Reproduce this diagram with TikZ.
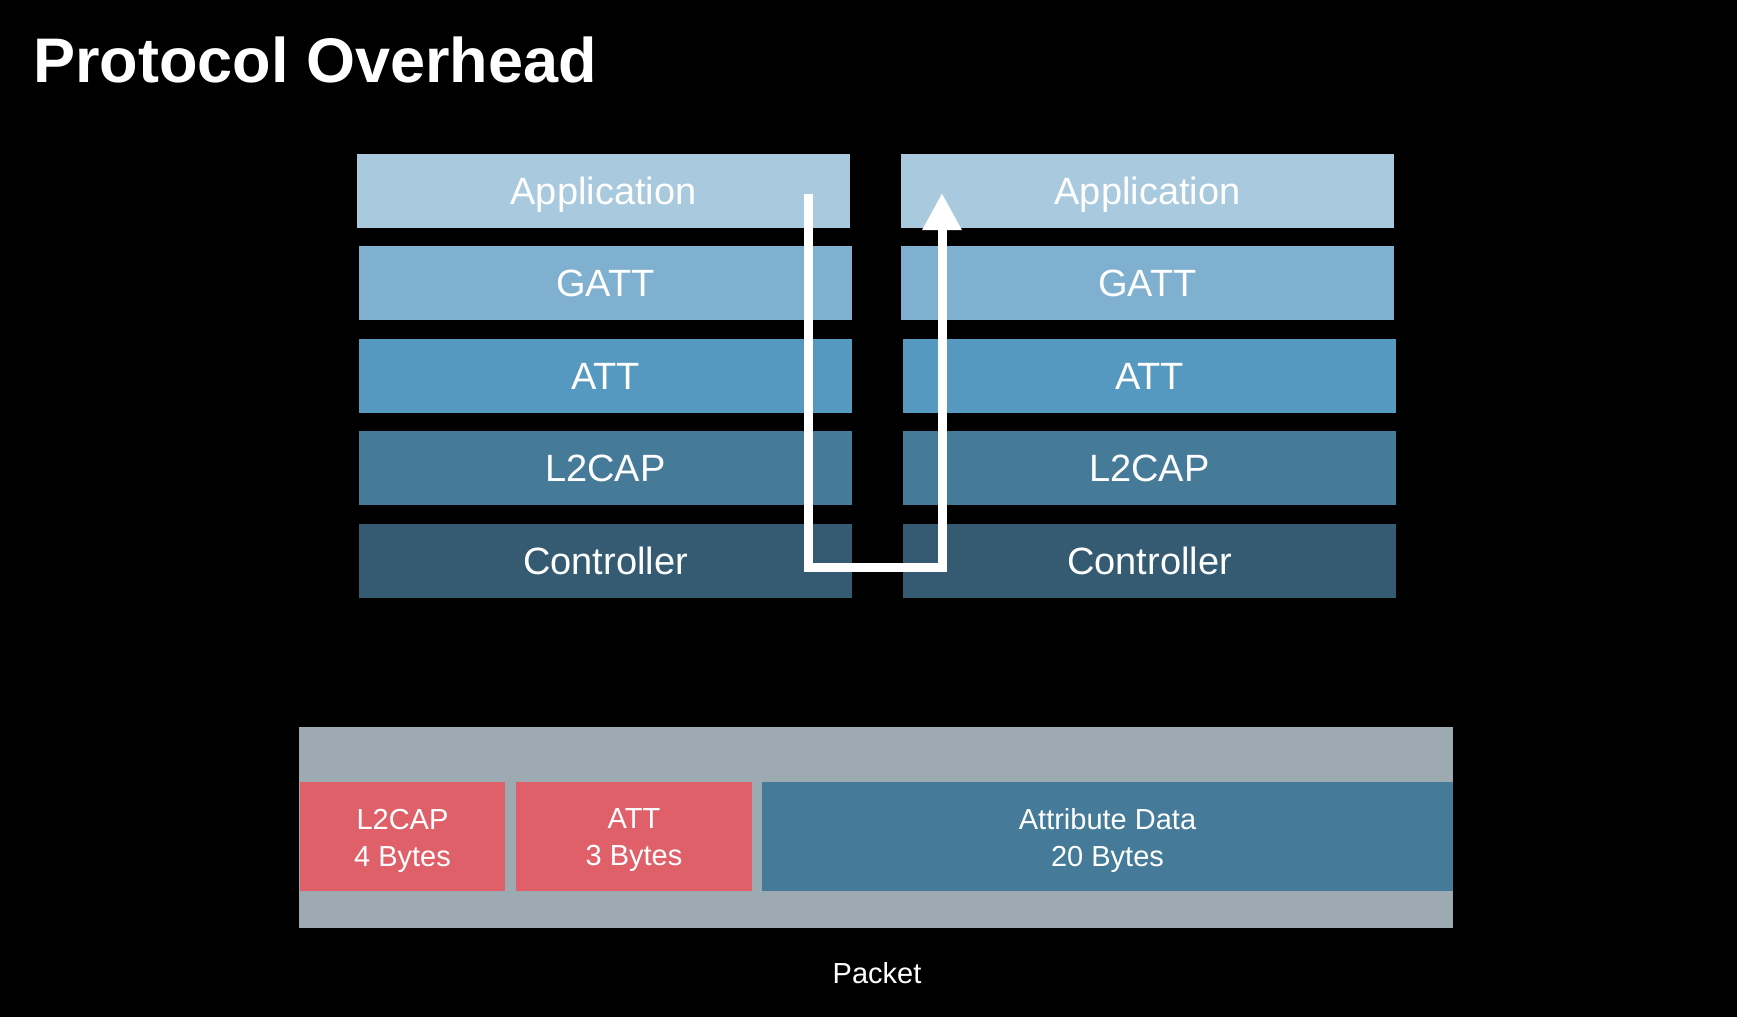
\documentclass[tikz,border=0pt]{standalone}
\usepackage{fontspec}
\setmainfont{Liberation Sans}
\usetikzlibrary{arrows.meta}
\definecolor{cApp}{HTML}{A9C9DE}
\definecolor{cGatt}{HTML}{7FB0CF}
\definecolor{cAtt}{HTML}{5598C0}
\definecolor{cL2}{HTML}{457A99}
\definecolor{cCtl}{HTML}{345B72}
\definecolor{cPkt}{HTML}{9EAAB1}
\definecolor{cRed}{HTML}{E0606A}
\begin{document}
\begin{tikzpicture}[x=0.5pt,y=-0.5pt,
  layer/.style={minimum width=246.5pt,minimum height=37pt,inner sep=0pt,text=white,text height=13.7pt,text depth=0pt,font=\fontsize{19}{22}\selectfont},
  field/.style={inner sep=0pt,text=white,align=center,text depth=0pt,yshift=-0.5pt,font=\fontsize{14.5}{18.5}\selectfont},
  flow/.style={draw=white,line width=4.5pt,line join=miter,-{Triangle[width=18.5pt,length=18.5pt]}}]
\fill[black] (0,0) rectangle (1737,1017);
\useasboundingbox (0,0) rectangle (1737,1017);
\node[anchor=base west,text=white,inner sep=0pt,font=\fontsize{31.5}{36}\selectfont\bfseries] (title) at (33,83) {Protocol Overhead};
% left stack
\node[layer,fill=cApp] (lapp) at (603.5,191) {Application};
\node[layer,fill=cGatt] (lgatt) at (605.5,283) {GATT};
\node[layer,fill=cAtt] (latt) at (605.5,376) {ATT};
\node[layer,fill=cL2] (ll2) at (605.5,468) {L2CAP};
\node[layer,fill=cCtl] (lctl) at (605.5,560.5) {Controller};
% right stack
\node[layer,fill=cApp] (rapp) at (1147.5,191) {Application};
\node[layer,fill=cGatt] (rgatt) at (1147.5,283) {GATT};
\node[layer,fill=cAtt] (ratt) at (1149.5,376) {ATT};
\node[layer,fill=cL2] (rl2) at (1149.5,468) {L2CAP};
\node[layer,fill=cCtl] (rctl) at (1149.5,560.5) {Controller};
% arrow
\coordinate (s) at (808,194);
\coordinate (e) at (942,193);
\draw[flow] (s) -- ++(0,373) -| (e);
% packet
\node[fill=cPkt,minimum width=577pt,minimum height=100.5pt,inner sep=0pt] (pkt) at (876,827.5) {};
\node[fill=cRed,minimum width=102.5pt,minimum height=54.5pt,inner sep=0pt] (pl2) at (402.5,836.5) {};
\node[field] (pl2t) at (pl2) {L2CAP\\4 Bytes};
\node[fill=cRed,minimum width=118pt,minimum height=54.5pt,inner sep=0pt] (patt) at (634,836.5) {};
\node[field] (pattt) at (patt) {ATT\\3 Bytes};
\node[fill=cL2,minimum width=345.5pt,minimum height=54.5pt,inner sep=0pt] (pdat) at (1107.5,836.5) {};
\node[field] (pdatt) at (pdat) {Attribute Data\\20 Bytes};
\node[text=white,inner sep=0pt,font=\fontsize{14.5}{18}\selectfont] (plabel) at (877,973) {Packet};
\end{tikzpicture}
\end{document}
